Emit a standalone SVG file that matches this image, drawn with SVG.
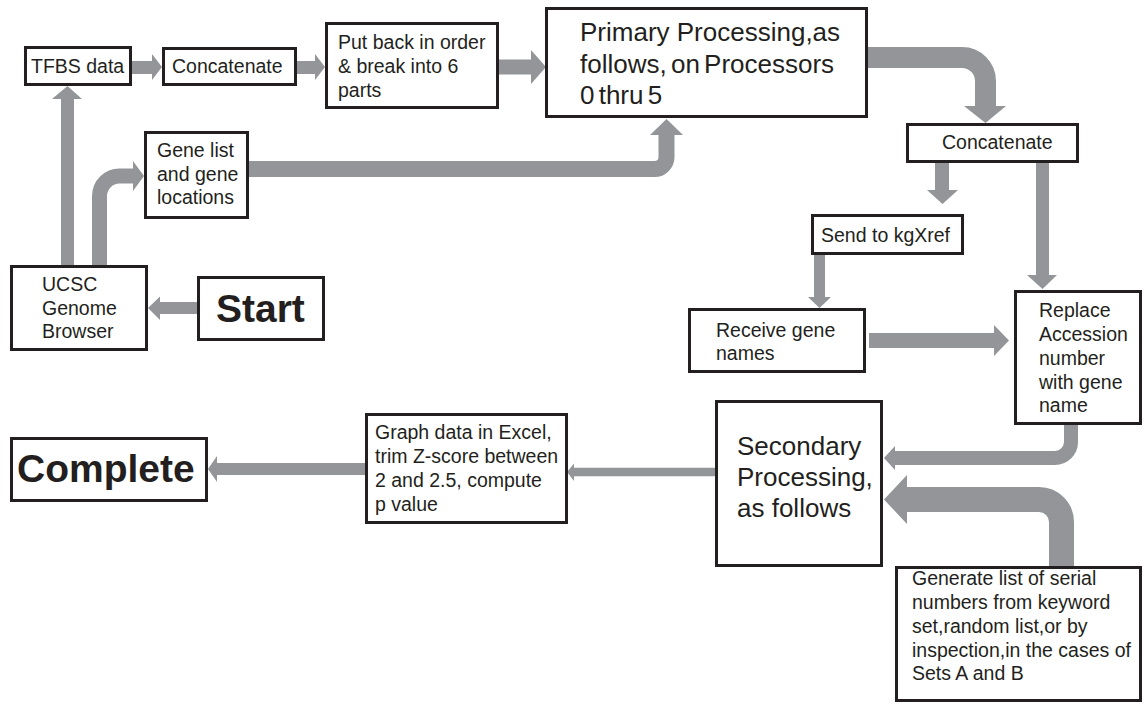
<svg xmlns="http://www.w3.org/2000/svg" width="1144" height="704" viewBox="0 0 1144 704">
<style>
.box{fill:#fff;stroke:#231f20;stroke-width:3}
.t{font-family:"Liberation Sans",Arial,sans-serif;font-size:19.5px;fill:#231f20}
.big{font-size:26px}
.bold{font-family:"Liberation Sans",Arial,sans-serif;font-size:39px;font-weight:bold;fill:#231f20}
.sh{fill:none;stroke:#939598}
.hd{fill:#939598}
</style>
<rect width="1144" height="704" fill="#fff"/>
<g id="connectors">
  <!-- UCSC -> TFBS -->
  <path class="sh" stroke-width="13" d="M67.5,265 V98"/>
  <polygon class="hd" points="52,99 82,99 67.5,86"/>
  <!-- UCSC -> Gene list -->
  <path class="sh" stroke-width="15" d="M99.5,265 V196 A20,20 0 0 1 119.5,176 H134"/>
  <polygon class="hd" points="133,161 133,191 144,176"/>
  <!-- TFBS -> Concatenate -->
  <path class="sh" stroke-width="13" d="M132,67.5 H153"/>
  <polygon class="hd" points="152,54 152,80 162,67"/>
  <!-- Concatenate -> Put back -->
  <path class="sh" stroke-width="13" d="M297,67.5 H316"/>
  <polygon class="hd" points="315,54 315,80 325,67"/>
  <!-- Put back -> Primary -->
  <path class="sh" stroke-width="15" d="M499,67 H532"/>
  <polygon class="hd" points="531,50 531,84 546,67"/>
  <!-- Gene list -> Primary -->
  <path class="sh" stroke-width="16" d="M249,169 H654.5 A12,12 0 0 0 666.5,157 V134"/>
  <polygon class="hd" points="650,135 683,135 666.5,119"/>
  <!-- Primary -> Concatenate -->
  <path class="sh" stroke-width="21" d="M868,57.5 H962 A23.5,23.5 0 0 1 985.5,81 V107"/>
  <polygon class="hd" points="964,106 1006,106 985.5,123"/>
  <!-- Concatenate -> Send to kgXref -->
  <path class="sh" stroke-width="14" d="M942,163 V191"/>
  <polygon class="hd" points="927,190 958,190 942.5,204"/>
  <!-- Concatenate -> Replace -->
  <path class="sh" stroke-width="13" d="M1042.5,160 V276"/>
  <polygon class="hd" points="1027,275 1057,275 1042.5,289"/>
  <!-- Send -> Receive -->
  <path class="sh" stroke-width="11" d="M819.5,255 V298"/>
  <polygon class="hd" points="808,297 831,297 819.5,308"/>
  <!-- Receive -> Replace -->
  <path class="sh" stroke-width="15" d="M869,340.5 H995"/>
  <polygon class="hd" points="994,325 994,356 1009,340.5"/>
  <!-- Replace -> Secondary -->
  <path class="sh" stroke-width="14" d="M1071,424 V442 A16,16 0 0 1 1055,458 H894"/>
  <polygon class="hd" points="895,446 895,470 884,458"/>
  <!-- Generate -> Secondary -->
  <path class="sh" stroke-width="25" d="M1061.5,567 V522 A22.5,22.5 0 0 0 1039,499.5 H906"/>
  <polygon class="hd" points="907,475 907,524 884,499.5"/>
  <!-- Secondary -> Graph -->
  <path class="sh" stroke-width="8.5" d="M715,472 H573"/>
  <polygon class="hd" points="574,463.5 574,481 567,472"/>
  <!-- Graph -> Complete -->
  <path class="sh" stroke-width="12" d="M365,469 H216"/>
  <polygon class="hd" points="217,456 217,482 208,469"/>
  <!-- Start -> UCSC -->
  <path class="sh" stroke-width="12" d="M197,308 H159"/>
  <polygon class="hd" points="160,296.5 160,320 148,308"/>
</g>
<g id="tfbs"><rect class="box" x="25.5" y="47.5" width="105" height="37"/><text class="t" x="31" y="73">TFBS data</text></g>
<g id="concat1"><rect class="box" x="163.5" y="48.5" width="132" height="36"/><text class="t" x="172" y="73">Concatenate</text></g>
<g id="putback"><rect class="box" x="326.5" y="23.5" width="171" height="84"/><text class="t" x="338"><tspan x="338" y="49">Put back in order</tspan><tspan x="338" y="73">&amp; break into 6</tspan><tspan x="338" y="97">parts</tspan></text></g>
<g id="primary"><rect class="box" x="546.5" y="8.5" width="320" height="108"/><text class="t big" x="580"><tspan x="580" y="41">Primary Processing,as</tspan><tspan x="580" y="73" word-spacing="-3">follows, on Processors</tspan><tspan x="580" y="104" word-spacing="-3">0 thru 5</tspan></text></g>
<g id="genelist"><rect class="box" x="145.5" y="132.5" width="102" height="85"/><text class="t" x="157"><tspan x="157" y="157">Gene list</tspan><tspan x="157" y="181">and gene</tspan><tspan x="157" y="204">locations</tspan></text></g>
<g id="ucsc"><rect class="box" x="11.5" y="266.5" width="135" height="83"/><text class="t" x="42"><tspan x="42" y="291">UCSC</tspan><tspan x="42" y="315">Genome</tspan><tspan x="42" y="338">Browser</tspan></text></g>
<g id="start"><rect class="box" x="198.5" y="277.5" width="125" height="62"/><text class="bold" x="216" y="322">Start</text></g>
<g id="concat2"><rect class="box" x="907.5" y="124.5" width="170" height="37"/><text class="t" x="942" y="149">Concatenate</text></g>
<g id="send"><rect class="box" x="812.5" y="215.5" width="150" height="38"/><text class="t" x="821" y="242">Send to kgXref</text></g>
<g id="receive"><rect class="box" x="689.5" y="309.5" width="175" height="62"/><text class="t" x="716"><tspan x="716" y="337">Receive gene</tspan><tspan x="716" y="360">names</tspan></text></g>
<g id="replace"><rect class="box" x="1015.5" y="291.5" width="125" height="132"/><text class="t" x="1039"><tspan x="1039" y="317">Replace</tspan><tspan x="1039" y="341">Accession</tspan><tspan x="1039" y="365">number</tspan><tspan x="1039" y="389">with gene</tspan><tspan x="1039" y="412">name</tspan></text></g>
<g id="secondary"><rect class="box" x="716.5" y="401.5" width="165" height="164"/><text class="t big" x="737"><tspan x="737" y="455">Secondary</tspan><tspan x="737" y="486">Processing,</tspan><tspan x="737" y="517">as follows</tspan></text></g>
<g id="graph"><rect class="box" x="366.5" y="414.5" width="200" height="108"/><text class="t" x="375"><tspan x="375" y="439">Graph data in Excel,</tspan><tspan x="375" y="463">trim Z-score between</tspan><tspan x="375" y="487">2 and 2.5, compute</tspan><tspan x="375" y="511">p value</tspan></text></g>
<g id="complete"><rect class="box" x="11.5" y="438.5" width="195" height="62"/><text class="bold" x="17" y="482">Complete</text></g>
<g id="generate"><rect class="box" x="896.5" y="567.5" width="244" height="133"/><text class="t" x="912"><tspan x="912" y="585">Generate list of serial</tspan><tspan x="912" y="609">numbers from keyword</tspan><tspan x="912" y="633">set,random list,or by</tspan><tspan x="912" y="657">inspection,in the cases of</tspan><tspan x="912" y="680">Sets A and B</tspan></text></g>
</svg>
